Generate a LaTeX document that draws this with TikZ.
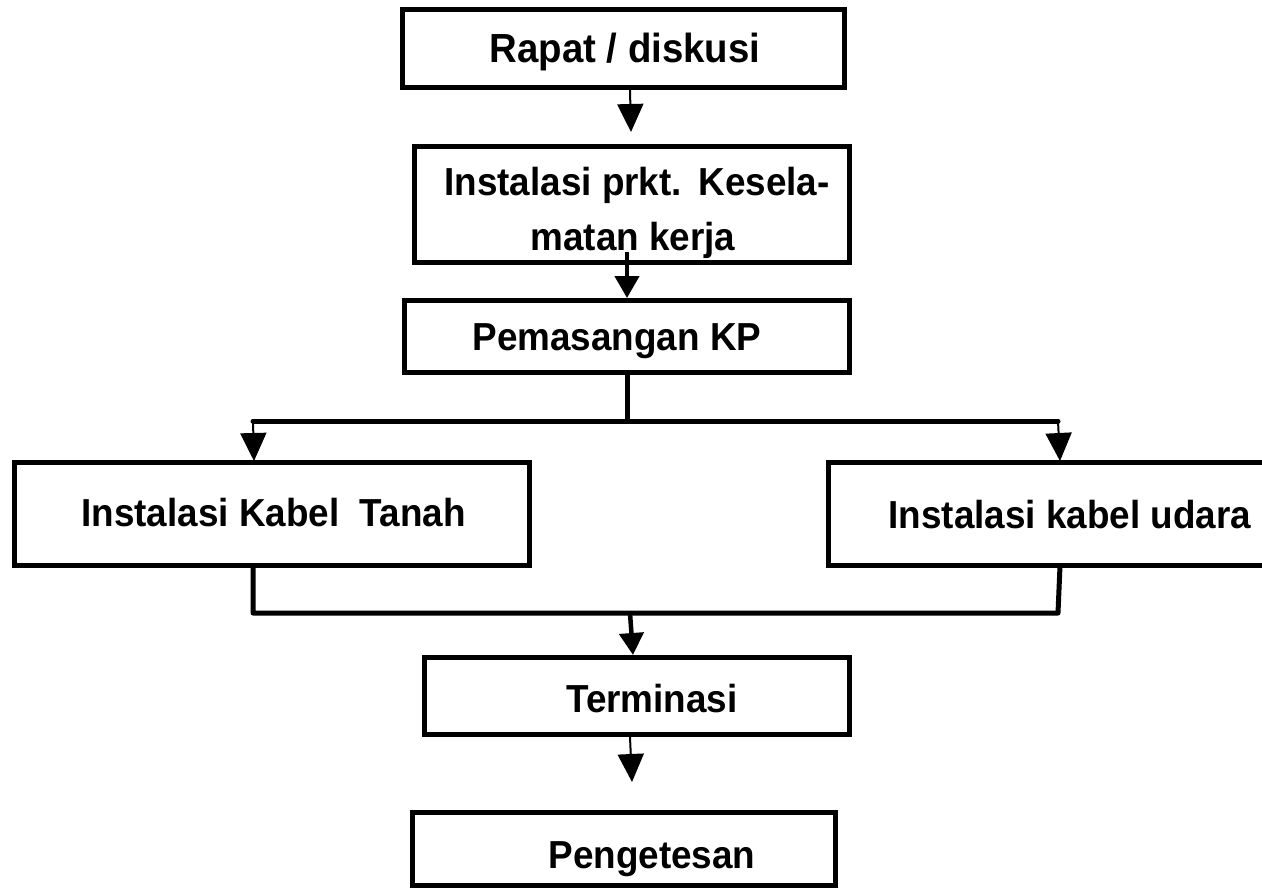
\documentclass[tikz,border=0pt]{standalone}
\usepackage{fontspec}
\setmainfont{Liberation Sans}
\usetikzlibrary{arrows.meta}
% slightly tall lettering for the box captions
\newcommand\tallcaption[1]{\scalebox{1}[1.06]{#1}}
\begin{document}
\begin{tikzpicture}[x=1bp,y=-1bp,
  box/.style={draw, line width=5bp, inner sep=0pt},
  label/.style={anchor=base, inner sep=0pt, font=\fontsize{37}{44}\selectfont\bfseries},
  bar/.style={line width=5bp, line cap=round, line join=round},
  arr/.style={-{Triangle[width=26bp,length=28bp]}, line width=2bp},
  arrthick/.style={-{Triangle[width=24bp,length=22bp]}, line width=4.5bp}]
\useasboundingbox (0,0) rectangle (1262,888);
\clip (0,0) rectangle (1262,888);

% process boxes
\node[box, minimum width=442bp, minimum height=78bp]  (rapat) at (623.5,48.5) {};
\node[box, minimum width=435bp, minimum height=116bp] (apd)   at (632,204.5) {};
\node[box, minimum width=445bp, minimum height=72bp]  (kp)    at (627,336.5) {};
\node[box, minimum width=515bp, minimum height=103bp] (tanah) at (272,514) {};
\node[box, minimum width=483bp, minimum height=103bp] (udara) at (1070,514) {};
\node[box, minimum width=425bp, minimum height=77bp]  (term)  at (637,696) {};
\node[box, minimum width=423bp, minimum height=73bp]  (test)  at (624,849) {};

% box texts
\node[label, font=\fontsize{38.5}{44}\selectfont\bfseries] (trapat) at (625,62) {\tallcaption{Rapat / diskusi}};
\node[label] (tapd1) at (637,195) {\tallcaption{Instalasi prkt.\hspace{0.45em}Kesela-}};
\node[label] (tapd2) at (633,250) {\tallcaption{matan kerja}};
\node[label] (tkp) at (617,350) {\tallcaption{Pemasangan KP}};
\node[label] (ttanah) at (273.5,526) {\tallcaption{Instalasi Kabel\ \ Tanah}};
\node[label] (tudara) at (1070,528) {\tallcaption{Instalasi kabel udara}};
\node[label] (tterm) at (652,712) {\tallcaption{Terminasi}};
\node[label] (ttest) at (652,868) {\tallcaption{Pengetesan}};

% junction points
\coordinate (split)  at (627,421);
\coordinate (splitL) at (253,421);
\coordinate (splitR) at (1058,421);
\coordinate (joinL)  at (253,613);
\coordinate (joinR)  at (1058,613);
\coordinate (join)   at (630,613);

% connectors
\draw[arr] (rapat.south -| 630,0) -- (631,132);
\draw[arrthick] (627,252) -- (kp.north);
\draw[bar] (kp.south) -- (split);
\draw[bar] (splitL) -- (splitR);
\draw[arr] (splitL) -- (254,461);
\draw[arr] (splitR) -- (1060,461);
\draw[bar] (tanah.south -| joinL) -- (joinL) -- (joinR) -- (1060,566);
\draw[arrthick] (join) -- (term.north -| 633,0);
\draw[arr] (term.south -| 630,0) -- (632,782);
\end{tikzpicture}
\end{document}
